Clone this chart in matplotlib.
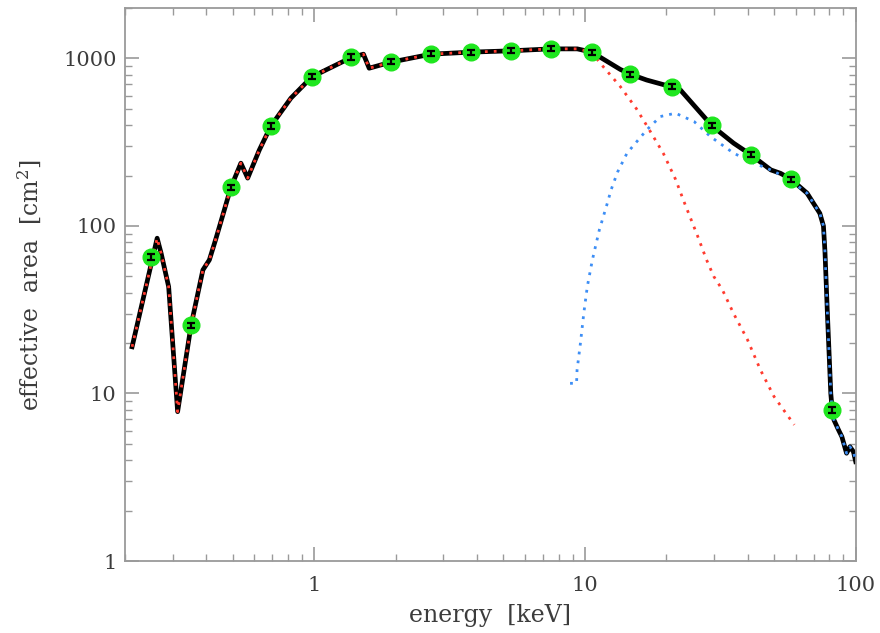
import numpy as np
import matplotlib
matplotlib.use("Agg")
import matplotlib.pyplot as plt
from matplotlib.ticker import LogLocator, FixedLocator, FuncFormatter, NullFormatter

# total effective area (black)
e_tot = [0.2125, 0.263, 0.272, 0.290, 0.313, 0.351, 0.388, 0.410, 0.434, 0.4925,
         0.536, 0.568, 0.627, 0.692, 0.82, 0.98, 1.366, 1.52, 1.596, 1.92,
         2.70, 3.79, 5.32, 7.47, 9.37, 10.6, 13.5, 14.7, 16.9, 20.7,
         22.5, 29.5, 35.4, 41.0, 48.6, 52.8, 57.7, 66.1, 73.7, 76.0,
         77.0, 78.6, 80.9, 81.9, 83.1, 86.4, 88.9, 92.5, 95.2, 98.1, 100.0]
a_tot = [19.0, 84.5, 68.7, 43.4, 7.79, 25.6, 54.6, 62.7, 84.5, 170,
         237, 193, 284, 395, 579, 776, 1010, 1060, 874, 950,
         1060, 1090, 1110, 1140, 1140, 1090, 860, 805, 743, 679,
         649, 395, 312, 266, 216, 206, 190, 157, 119, 100,
         70, 30, 10, 7.97, 6.95, 6.06, 5.52, 4.40, 4.81, 4.49, 3.92]

# low energy component (red), same as total below ~10 keV
e_low = e_tot[:26] + [11.3, 13.5, 15.5, 17.2, 19.5, 21.6, 23.2, 26.0, 28.1, 29.9,
                      32.2, 35.4, 39.8, 44.5, 49.9, 59.3]
a_low = a_tot[:26] + [950, 680, 500, 380, 270, 190, 140, 88, 63, 50,
                      41.5, 30, 21, 13.8, 9.6, 6.5]

# high energy component (blue)
e_high = [8.81, 9.31, 9.35, 9.62, 9.90, 10.2, 10.65, 11.3, 12.1, 12.5,
          13.2, 14.3, 16.9, 19.0, 21.6, 25.3, 29.1, 35.4, 42.1, 48.6,
          55.9] + e_tot[37:]
a_high = [11.5, 11.5, 13.8, 19.9, 30.1, 43.4, 62.7, 94.7, 137, 165,
          210, 272, 374, 450, 471, 420, 341, 272, 237, 216,
          193] + a_tot[37:]

# calibration points
e_pts = [0.2496, 0.351, 0.4925, 0.692, 0.98, 1.366, 1.92, 2.70, 3.79,
         5.32, 7.47, 10.6, 14.7, 20.9, 29.4, 41.1, 57.8, 81.9]
a_pts = [65.3, 25.6, 170, 395, 776, 1020, 955, 1065, 1090,
         1112, 1145, 1090, 806, 678, 398, 266, 190, 7.97]
a_err = [0.035 * a for a in a_pts]

plt.rcParams['font.family'] = 'DejaVu Serif'
plt.rcParams['mathtext.fontset'] = 'dejavuserif'
txt_col = '#3c3c3c'
ax_col = '#9a9a9a'

fig = plt.figure(figsize=(8.8, 6.33), dpi=100)
ax = fig.add_axes([0.142, 0.1137, 0.8304, 0.8737])

ax.plot(e_tot, a_tot, color='black', lw=3.4, zorder=2)
ax.plot(e_low, a_low, color='#ff3b2f', lw=2.0, ls=(0, (1, 2.2)), zorder=3)
ax.plot(e_high, a_high, color='#3d8ef5', lw=2.0, ls=(0, (1, 2.2)), zorder=3)
# green dots first, error bars drawn over them
ax.plot(e_pts, a_pts, 'o', ms=12, mfc='#1ee61e', mec='#1ee61e', zorder=4)
ax.errorbar(e_pts, a_pts, yerr=a_err, fmt='none', ecolor='black',
            elinewidth=1.6, capsize=3, capthick=1.6, zorder=5)

ax.set_xscale('log')
ax.set_yscale('log')
ax.set_xlim(0.2, 100)
ax.set_ylim(1, 2000)

fmt = FuncFormatter(lambda v, p: '%d' % round(v))
ax.xaxis.set_major_locator(FixedLocator([1, 10, 100]))
ax.yaxis.set_major_locator(FixedLocator([1, 10, 100, 1000]))
ax.xaxis.set_major_formatter(fmt)
ax.yaxis.set_major_formatter(fmt)
ax.xaxis.set_minor_locator(LogLocator(base=10, subs=np.arange(2, 10), numticks=20))
ax.yaxis.set_minor_locator(LogLocator(base=10, subs=np.arange(2, 10), numticks=20))
ax.xaxis.set_minor_formatter(NullFormatter())
ax.yaxis.set_minor_formatter(NullFormatter())

ax.tick_params(which='both', direction='in', top=True, right=True, color=ax_col,
               labelcolor=txt_col, labelsize=15)
ax.tick_params(which='major', length=10, width=1.2)
ax.tick_params(which='minor', length=5, width=1.0)
ax.tick_params(axis='x', which='major', pad=11)
ax.tick_params(axis='y', which='major', pad=6)
for s in ax.spines.values():
    s.set_color(ax_col)
    s.set_linewidth(1.3)

ax.set_xlabel('energy  [keV]', fontsize=17, color=txt_col, labelpad=6)
ax.set_ylabel(r'effective  area  [cm$^2$]', fontsize=17, color=txt_col, labelpad=14)

plt.savefig('out.png', dpi=100)
